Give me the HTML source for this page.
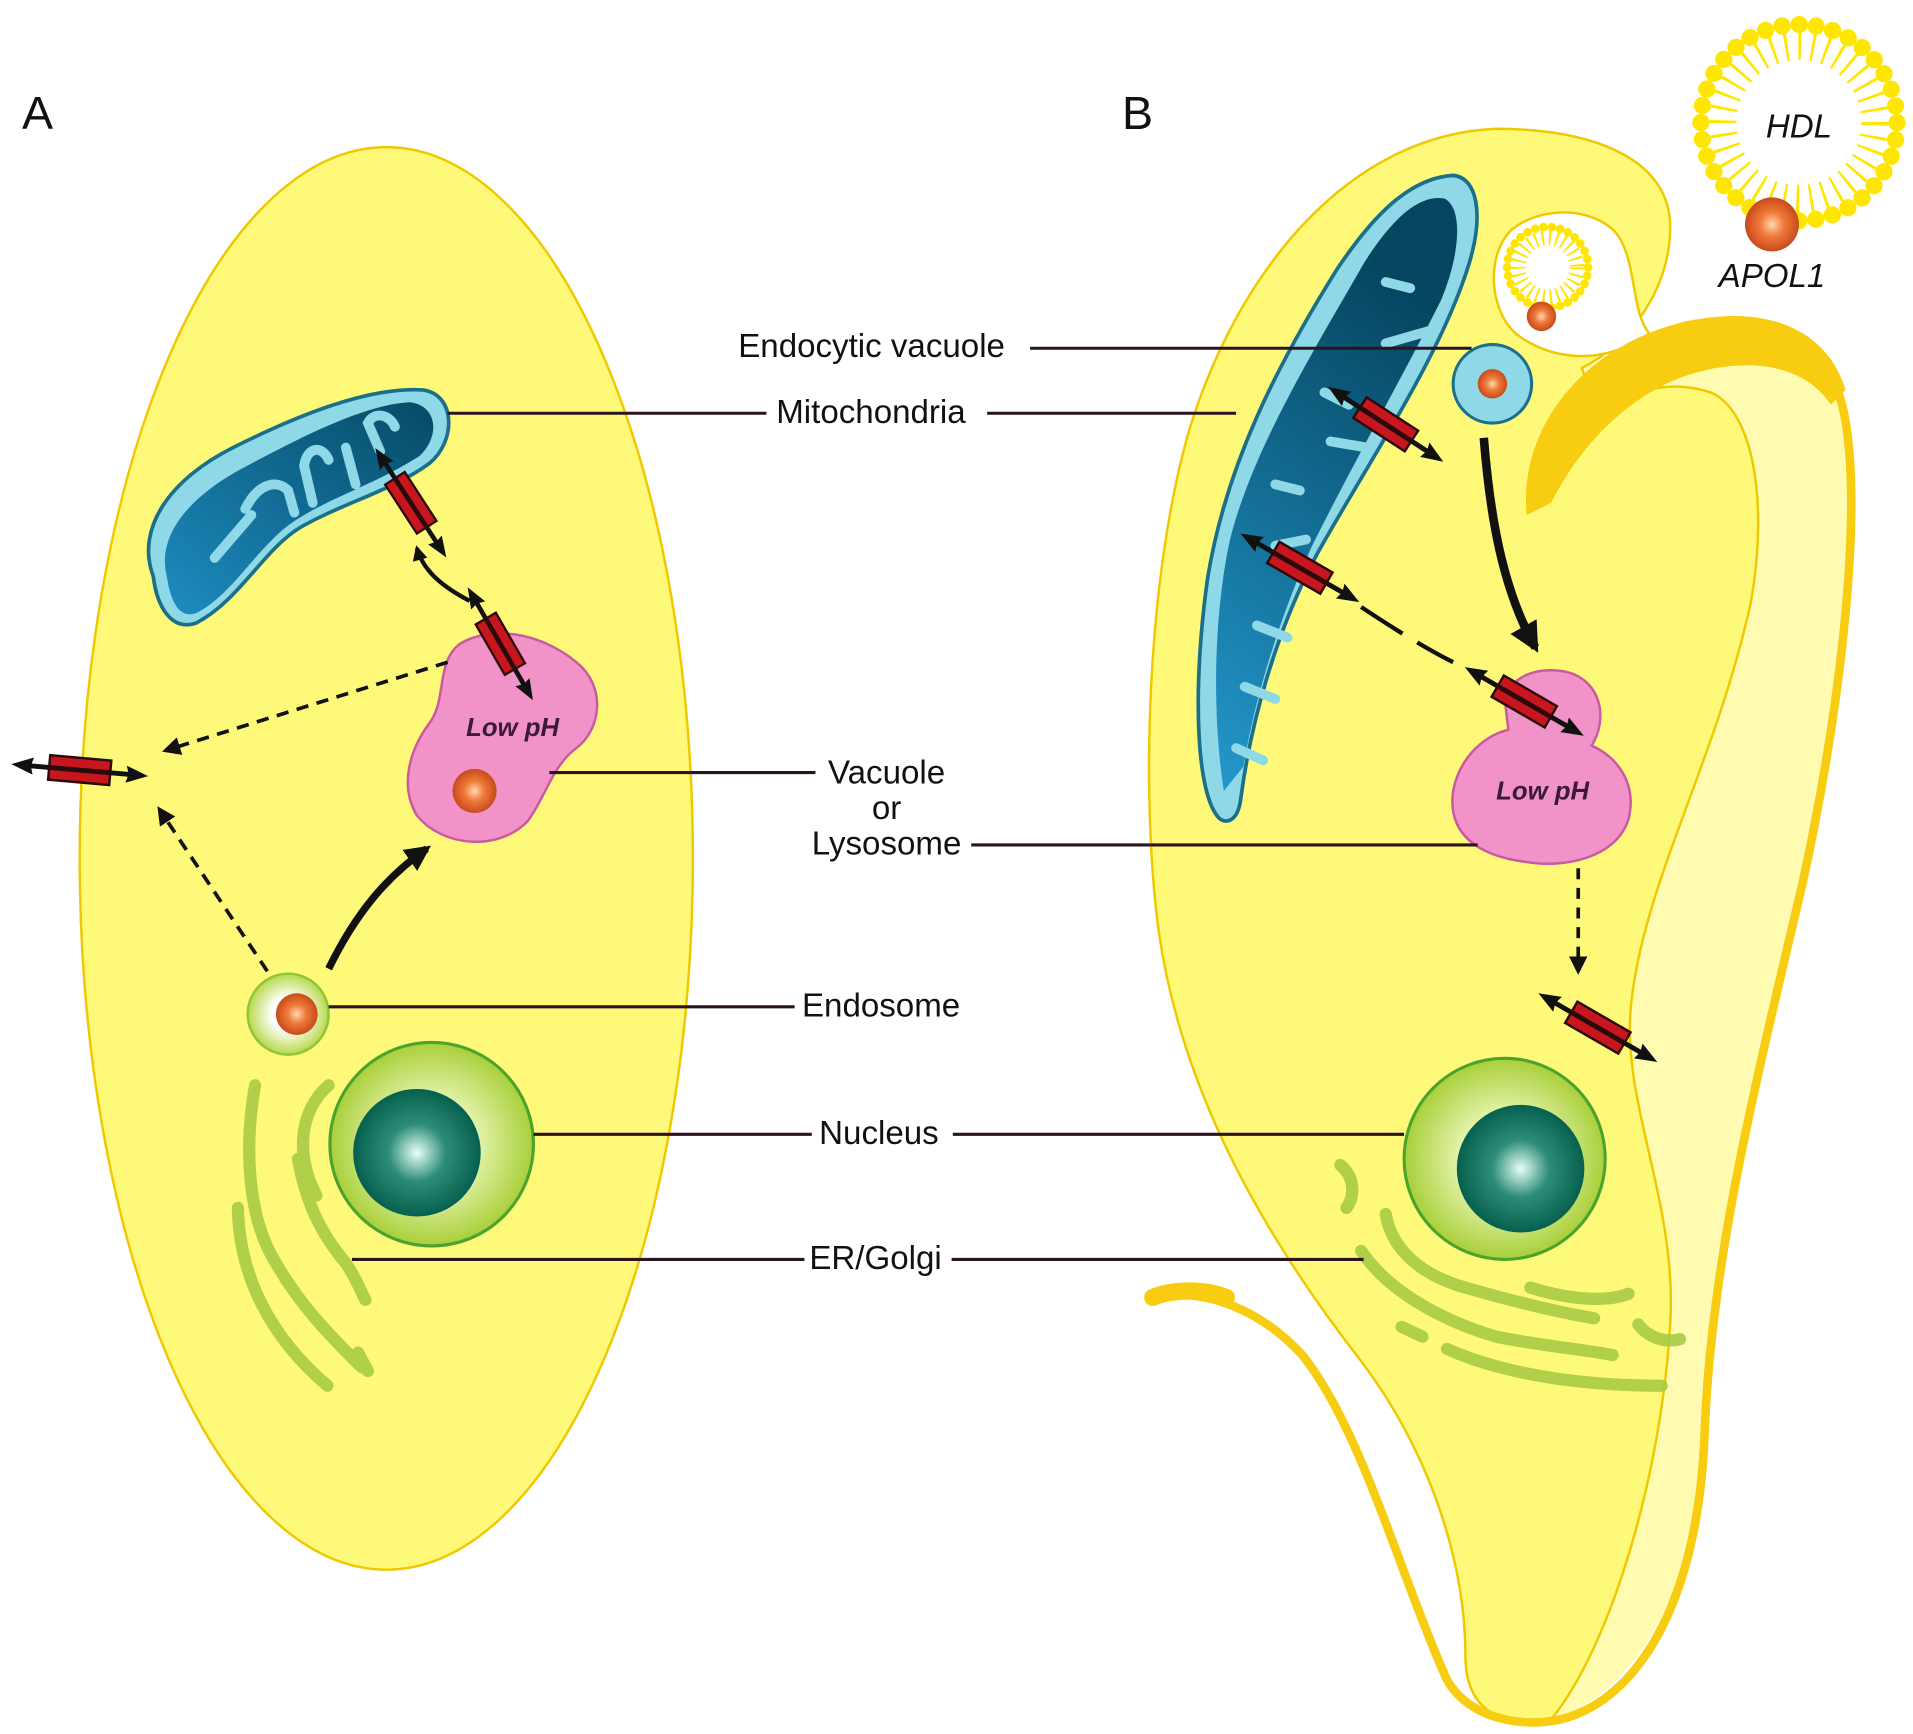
<!DOCTYPE html>
<html><head><meta charset="utf-8"><style>
html,body{margin:0;padding:0;background:#fff}
svg{display:block}
text{font-family:"Liberation Sans",Arial,sans-serif}
</style></head><body>
<svg width="1913" height="1734" viewBox="0 0 1560 1414" preserveAspectRatio="none" xmlns="http://www.w3.org/2000/svg">
<defs>
<radialGradient id="orb" cx="0.5" cy="0.5" r="0.5"><stop offset="0" stop-color="#ffd9b0"/><stop offset="0.45" stop-color="#ef7a3a"/><stop offset="1" stop-color="#c84a1a"/></radialGradient>
<radialGradient id="nuc" cx="0.5" cy="0.5" r="0.5"><stop offset="0" stop-color="#ffffff"/><stop offset="0.35" stop-color="#eefac0"/><stop offset="1" stop-color="#a9cf3a"/></radialGradient>
<radialGradient id="nucin" cx="0.5" cy="0.5" r="0.5"><stop offset="0" stop-color="#e8fff5"/><stop offset="0.45" stop-color="#2d8d78"/><stop offset="1" stop-color="#07604f"/></radialGradient>
<radialGradient id="endo" cx="0.5" cy="0.5" r="0.5"><stop offset="0.4" stop-color="#ffffff"/><stop offset="1" stop-color="#b6d94a"/></radialGradient>
<linearGradient id="mitoL" x1="0" y1="1" x2="1" y2="0"><stop offset="0" stop-color="#1d8cc0"/><stop offset="1" stop-color="#064a66"/></linearGradient>
<linearGradient id="mitoR" x1="0" y1="1" x2="0.3" y2="0"><stop offset="0" stop-color="#2398cc"/><stop offset="1" stop-color="#054560"/></linearGradient>
<g id="tp">
 <line x1="-44" y1="0" x2="44" y2="0" stroke="#111" stroke-width="4"/>
 <polygon points="-56,0 -38,-7 -40,0 -38,7" fill="#111"/>
 <polygon points="56,0 38,-7 40,0 38,7" fill="#111"/>
 <rect x="-25" y="-10" width="50" height="9" fill="#c8161e" stroke="#2a0a0a" stroke-width="2"/>
 <rect x="-25" y="1" width="50" height="9" fill="#c8161e" stroke="#2a0a0a" stroke-width="2"/>
</g>
<marker id="ah" viewBox="0 0 10 10" refX="8" refY="5" markerWidth="5" markerHeight="5" orient="auto"><path d="M0,0 L10,5 L0,10 Z" fill="#111"/></marker>
<marker id="ah2" viewBox="0 0 10 10" refX="8" refY="5" markerWidth="3.5" markerHeight="3.5" orient="auto"><path d="M0,0 L10,5 L0,10 Z" fill="#111"/></marker>
</defs>

<text x="18" y="105" font-size="38" fill="#111">A</text>
<text x="915" y="105" font-size="38" fill="#111">B</text>

<!-- Cell A -->
<ellipse cx="315" cy="700" rx="250" ry="580" fill="#fff97a" stroke="#f0c800" stroke-width="2"/>

<!-- Mitochondrion A -->
<path d="M125,470 C110,430 140,390 190,365 C240,340 300,315 345,318 C372,322 372,360 350,378 C320,400 280,410 245,430 C215,448 195,490 160,508 C140,515 128,495 125,470 Z" fill="#8fd8e8" stroke="#1a6f8a" stroke-width="3"/>
<path d="M136,470 C128,438 152,408 192,385 C242,358 296,330 334,328 C356,330 360,355 342,372 C306,395 270,405 240,425 C210,445 190,485 160,500 C146,505 139,490 136,470 Z" fill="url(#mitoL)"/>
<g stroke="#8fd8e8" stroke-width="8" stroke-linecap="round" fill="none">
<path d="M175,455 L205,420"/><path d="M200,415 C210,395 225,390 235,400 L240,418"/><path d="M255,410 L248,380 C250,365 262,362 268,375"/><path d="M290,395 L282,365"/><path d="M310,368 L300,345 C305,335 318,338 322,348"/>
</g>

<!-- Pink vacuole A -->
<path d="M375,525 C400,510 440,515 470,540 C495,560 490,595 470,610 C450,625 445,650 430,670 C405,695 360,690 340,665 C325,640 335,610 350,590 C365,570 355,540 375,525 Z" fill="#f192c8" stroke="#c95aa0" stroke-width="2"/>
<text x="418" y="600" font-size="21" font-weight="bold" font-style="italic" fill="#3a1a3a" text-anchor="middle">Low pH</text>
<circle cx="387" cy="645" r="18" fill="url(#orb)"/>

<circle cx="235" cy="827" r="33" fill="url(#endo)" stroke="#8fc43a" stroke-width="2"/>
<circle cx="242" cy="827" r="17" fill="url(#orb)"/>

<circle cx="352" cy="933" r="83" fill="url(#nuc)" stroke="#4aa32a" stroke-width="2.5"/>
<circle cx="340" cy="940" r="52" fill="url(#nucin)"/>

<g stroke="#a8cc45" stroke-width="10" stroke-linecap="round" fill="none" opacity="0.9">
<path d="M208,885 C200,930 200,990 225,1030 C245,1065 270,1090 295,1115"/>
<path d="M268,885 C245,905 240,940 258,975"/>
<path d="M243,945 C250,985 265,1010 282,1030 C292,1045 295,1055 298,1060"/>
<path d="M194,985 C195,1040 220,1090 267,1130"/>
<path d="M292,1103 L300,1118"/>
</g>

<use href="#tp" transform="translate(335,410) rotate(57) scale(0.95)"/>
<use href="#tp" transform="translate(408,525) rotate(60) scale(0.95)"/>
<path d="M383,490 C360,478 345,465 340,447" stroke="#111" stroke-width="3.5" fill="none" marker-end="url(#ah2)"/>
<path d="M365,540 L135,612" stroke="#111" stroke-width="3" stroke-dasharray="10,7" fill="none" marker-end="url(#ah)"/>
<path d="M218,792 L130,660" stroke="#111" stroke-width="3" stroke-dasharray="10,7" fill="none" marker-end="url(#ah)"/>
<path d="M268,790 C290,745 315,715 348,692" stroke="#111" stroke-width="6" fill="none" marker-end="url(#ah2)"/>
<use href="#tp" transform="translate(65,628) rotate(5) scale(1)"/>

<!-- Cell B -->
<path d="M1270,320 C1330,250 1460,240 1495,300 C1525,370 1505,560 1470,720 C1430,890 1395,1030 1390,1170 C1385,1300 1330,1390 1250,1408 L1200,1300 Z" fill="#fffbb0"/>
<path d="M1290,300 C1330,280 1362,235 1362,185 C1362,130 1300,105 1220,105 C1100,110 1010,220 970,350 C935,470 930,650 945,760 C965,900 1040,1020 1110,1110 C1170,1190 1195,1280 1195,1350 C1195,1395 1225,1410 1265,1402 C1315,1340 1355,1200 1362,1080 C1368,980 1322,900 1330,820 C1340,720 1400,620 1428,490 C1442,410 1430,335 1395,320 C1350,305 1320,330 1300,330 Z" fill="#fff97a" stroke="#f0c800" stroke-width="2"/>
<path d="M1335,278 C1300,298 1262,292 1236,272 C1214,252 1212,208 1232,188 C1255,168 1298,168 1318,190 C1335,212 1330,255 1345,272 Z" fill="#fff" stroke="#f0c800" stroke-width="2"/>
<path d="M1245,420 C1238,350 1290,282 1375,262 C1440,248 1490,268 1505,318 L1493,330 C1470,295 1420,290 1370,308 C1320,328 1285,370 1265,410 Z" fill="#f8cc10"/>
<path d="M945,1058 C985,1050 1030,1070 1062,1105 C1110,1165 1140,1280 1180,1370 C1200,1405 1250,1410 1280,1400 C1340,1380 1385,1300 1390,1170 C1395,1030 1430,890 1470,720 C1505,560 1525,370 1495,310" stroke="#f8cc10" stroke-width="7" fill="none" stroke-linecap="round"/>
<path d="M940,1058 C960,1050 985,1052 1000,1058" stroke="#f8cc10" stroke-width="14" fill="none" stroke-linecap="round"/>

<!-- Mitochondrion B -->
<path d="M995,668 C975,650 972,560 985,470 C1000,380 1040,300 1090,220 C1120,175 1150,145 1185,143 C1205,145 1210,175 1198,215 C1175,290 1120,370 1075,450 C1040,515 1020,590 1012,650 C1010,668 1002,672 995,668 Z" fill="#8fd8e8" stroke="#1a6f8a" stroke-width="3"/>
<path d="M998,645 C988,580 990,500 1003,440 C1022,365 1072,285 1112,215 C1135,178 1158,158 1178,162 C1194,170 1190,210 1175,245 C1145,305 1105,375 1070,445 C1045,500 1024,565 1014,625 Z" fill="url(#mitoR)"/>
<g stroke="#8fd8e8" stroke-width="8" stroke-linecap="round" fill="none">
<path d="M1150,235 L1130,230"/><path d="M1165,270 L1130,280"/><path d="M1100,330 L1080,320"/><path d="M1115,365 L1085,360"/><path d="M1060,400 L1040,395"/><path d="M1065,440 L1040,445"/><path d="M1050,520 L1025,510"/><path d="M1040,570 L1015,560"/><path d="M1030,620 L1008,610"/>
</g>

<circle cx="1217" cy="313" r="32" fill="#8fd8e8" stroke="#1a6f8a" stroke-width="2.5"/>
<circle cx="1217" cy="313" r="12" fill="url(#orb)"/>

<path d="M1228,578 C1225,555 1250,542 1278,548 C1305,555 1312,585 1298,608 C1320,618 1335,640 1328,668 C1318,700 1275,708 1245,703 C1205,698 1180,680 1185,645 C1190,618 1210,600 1230,595 Z" fill="#f192c8" stroke="#c95aa0" stroke-width="2"/>
<text x="1258" y="652" font-size="21" font-weight="bold" font-style="italic" fill="#3a1a3a" text-anchor="middle">Low pH</text>

<!-- small HDL in pocket -->
<circle cx="1262" cy="218" r="24" fill="none" stroke="#ffe600" stroke-width="12" stroke-dasharray="1.6,4.1"/>
<circle cx="1262" cy="218" r="33" fill="none" stroke="#ffe600" stroke-width="7" stroke-linecap="round" stroke-dasharray="0.1,6.8"/>
<circle cx="1257" cy="258" r="12" fill="url(#orb)"/>

<!-- big HDL -->
<circle cx="1467" cy="100" r="62" fill="none" stroke="#ffe600" stroke-width="22" stroke-dasharray="2.2,8.6"/>
<circle cx="1467" cy="100" r="80" fill="none" stroke="#ffe600" stroke-width="14" stroke-linecap="round" stroke-dasharray="0.1,13.86"/>
<text x="1467" y="112" font-size="27" font-style="italic" fill="#111" text-anchor="middle">HDL</text>
<circle cx="1445" cy="183" r="22" fill="url(#orb)"/>
<text x="1445" y="234" font-size="27" font-style="italic" fill="#111" text-anchor="middle">APOL1</text>

<circle cx="1227" cy="945" r="82" fill="url(#nuc)" stroke="#4aa32a" stroke-width="2.5"/>
<circle cx="1240" cy="953" r="52" fill="url(#nucin)"/>

<g stroke="#a8cc45" stroke-width="10" stroke-linecap="round" fill="none" opacity="0.9">
<path d="M1093,950 C1105,960 1105,975 1098,985"/>
<path d="M1130,990 C1135,1020 1160,1040 1195,1050 C1230,1060 1270,1070 1300,1075"/>
<path d="M1110,1020 C1130,1050 1170,1075 1220,1090 C1260,1098 1290,1100 1315,1105"/>
<path d="M1248,1050 C1280,1060 1310,1062 1328,1055"/>
<path d="M1143,1082 L1160,1090"/>
<path d="M1180,1100 C1220,1118 1280,1130 1355,1130"/>
<path d="M1336,1080 C1345,1092 1360,1095 1370,1092"/>
</g>

<use href="#tp" transform="translate(1130,346) rotate(33)"/>
<use href="#tp" transform="translate(1060,463) rotate(30)"/>
<path d="M1110,495 C1140,515 1165,530 1185,540" stroke="#111" stroke-width="3.5" fill="none" stroke-dasharray="40,14"/>
<use href="#tp" transform="translate(1243,572) rotate(30)"/>
<path d="M1210,357 C1215,420 1225,480 1252,528" stroke="#111" stroke-width="7" fill="none" marker-end="url(#ah2)"/>
<path d="M1287,708 L1287,792" stroke="#111" stroke-width="3" stroke-dasharray="9,7" fill="none" marker-end="url(#ah)"/>
<use href="#tp" transform="translate(1303,838) rotate(30)"/>

<g stroke="#2a1420" stroke-width="2.5">
<line x1="840" y1="284" x2="1200" y2="284"/>
<line x1="365" y1="337" x2="625" y2="337"/>
<line x1="805" y1="337" x2="1008" y2="337"/>
<line x1="448" y1="630" x2="665" y2="630"/>
<line x1="792" y1="689" x2="1205" y2="689"/>
<line x1="268" y1="821" x2="648" y2="821"/>
<line x1="435" y1="925" x2="662" y2="925"/>
<line x1="777" y1="925" x2="1145" y2="925"/>
<line x1="287" y1="1027" x2="656" y2="1027"/>
<line x1="776" y1="1027" x2="1112" y2="1027"/>
</g>
<g font-size="27" fill="#111">
<text x="602" y="291">Endocytic vacuole</text>
<text x="633" y="345">Mitochondria</text>
<text x="723" y="639" text-anchor="middle">Vacuole</text>
<text x="723" y="668" text-anchor="middle">or</text>
<text x="723" y="697" text-anchor="middle">Lysosome</text>
<text x="654" y="829">Endosome</text>
<text x="668" y="933">Nucleus</text>
<text x="660" y="1035">ER/Golgi</text>
</g>
</svg>
</body></html>
